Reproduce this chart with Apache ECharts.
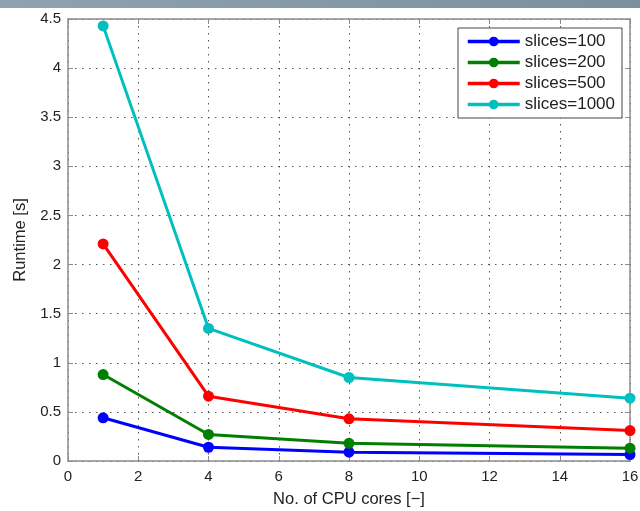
<!DOCTYPE html>
<html lang="en">
<head>
    <meta charset="UTF-8">
    <script src="https://cdn.jsdelivr.net/npm/echarts@6/dist/echarts.min.js"></script>
    <title>Runtime vs cores</title>
    <style>
        html, body { margin: 0; padding: 0; background: #fff; }
        #myChart { width: 640px; height: 511px; }
    </style>
</head>
<body>
    <div id="myChart"></div>
    <script>
        // data
        var cores = [1, 4, 8, 16];
        var slices100 = [0.44, 0.14, 0.09, 0.065];
        var slices200 = [0.88, 0.27, 0.18, 0.13];
        var slices500 = [2.21, 0.66, 0.43, 0.31];
        var slices1000 = [4.43, 1.35, 0.85, 0.64];
        var seriesNames = ['slices=100', 'slices=200', 'slices=500', 'slices=1000'];
        var seriesColors = ['#0000ff', '#007f00', '#ff0000', '#00bfbf'];

        function pairs(ys) {
            return cores.map(function (c, i) { return [c, ys[i]]; });
        }

        var font = 'Liberation Sans, Arial, sans-serif';
        var frame = '#8c8c8c';
        var dotted = { color: '#555', width: 1, type: [1.5, 5.5] };

        var allData = [slices100, slices200, slices500, slices1000];
        var series = allData.map(function (d, i) {
            return {
                name: seriesNames[i],
                type: 'line',
                data: pairs(d),
                symbol: 'circle',
                symbolSize: 11,
                lineStyle: { width: 3, color: seriesColors[i] },
                itemStyle: { color: seriesColors[i] },
                z: 3 + i
            };
        });

        var dom = document.getElementById('myChart');
        var myChart = echarts.init(dom, null, { renderer: 'canvas' });
        var option = {
            animation: false,
            textStyle: { fontFamily: font },
            graphic: [{
                type: 'rect',
                left: 0, top: 0,
                shape: { width: 640, height: 8 },
                style: {
                    fill: new echarts.graphic.LinearGradient(0, 0, 1, 0, [
                        { offset: 0, color: '#8ea2b1' },
                        { offset: 1, color: '#7b909f' }
                    ])
                },
                z: -1
            }],
            grid: { left: 68, right: 10, top: 19, bottom: 50, outerBoundsMode: 'none' },
            legend: {
                orient: 'vertical',
                right: 18,
                top: 28,
                data: seriesNames,
                itemWidth: 52,
                itemHeight: 12,
                itemGap: 4,
                padding: [5, 7, 5, 8],
                backgroundColor: '#fff',
                borderColor: '#444',
                borderWidth: 1,
                borderRadius: 0,
                lineStyle: { width: 3.5 },
                textStyle: { fontSize: 17, lineHeight: 16, color: '#222', fontFamily: font }
            },
            xAxis: [{
                type: 'value',
                min: 0, max: 16, interval: 2,
                name: 'No. of CPU cores [\u2212]',
                nameLocation: 'middle',
                nameGap: 30,
                nameTextStyle: { fontSize: 16.5, color: '#222' },
                axisLine: { onZero: false, lineStyle: { color: frame, width: 1.5 } },
                axisTick: { inside: true, length: 5, lineStyle: { color: frame } },
                axisLabel: { fontSize: 15, color: '#222', margin: 8 },
                splitLine: { show: true, lineStyle: dotted }
            }, {
                type: 'value',
                position: 'top',
                min: 0, max: 16, interval: 2,
                axisLine: { show: true, onZero: false, lineStyle: { color: frame, width: 1.5 } },
                axisTick: { show: true, inside: true, length: 5, lineStyle: { color: frame } },
                axisLabel: { show: false },
                splitLine: { show: false }
            }],
            yAxis: [{
                type: 'value',
                min: 0, max: 4.5, interval: 0.5,
                name: 'Runtime [s]',
                nameLocation: 'middle',
                nameGap: 36,
                nameTextStyle: { fontSize: 16.5, color: '#222' },
                axisLine: { show: true, onZero: false, lineStyle: { color: frame, width: 1.5 } },
                axisTick: { show: true, inside: true, length: 5, lineStyle: { color: frame } },
                axisLabel: { fontSize: 15, color: '#222', margin: 7 },
                splitLine: { show: true, lineStyle: dotted }
            }, {
                type: 'value',
                position: 'right',
                min: 0, max: 4.5, interval: 0.5,
                axisLine: { show: true, onZero: false, lineStyle: { color: frame, width: 1.5 } },
                axisTick: { show: true, inside: true, length: 5, lineStyle: { color: frame } },
                axisLabel: { show: false },
                splitLine: { show: false }
            }],
            series: series
        };
        myChart.setOption(option);
    </script>
</body>
</html>
